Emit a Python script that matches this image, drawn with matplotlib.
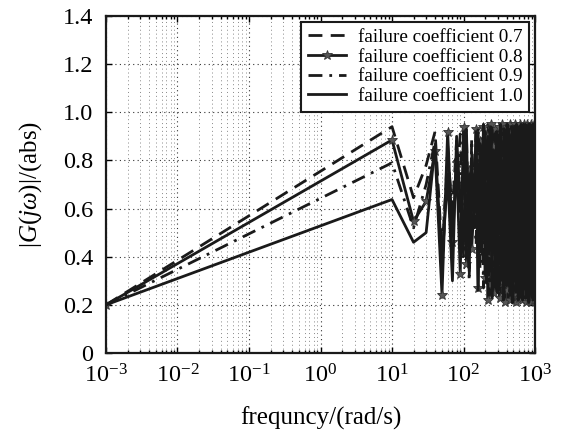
import matplotlib
matplotlib.use("Agg")
import matplotlib.pyplot as plt
from matplotlib.ticker import LogLocator, NullFormatter, FixedLocator

plt.rcParams['font.family'] = ['Liberation Serif', 'DejaVu Serif']
plt.rcParams['mathtext.fontset'] = 'custom'
plt.rcParams['mathtext.rm'] = 'Liberation Serif'
plt.rcParams['mathtext.it'] = 'Liberation Serif:italic'

freq = [0.001] + list(range(10, 1001, 10))

coef_07 = [0.2,
    0.94, 0.645, 0.78, 0.92, 0.42, 0.80, 0.60, 0.88, 0.50, 0.73,
    0.90, 0.45, 0.84, 0.58, 0.93, 0.40, 0.77, 0.91, 0.36, 0.86,
    0.52, 0.95, 0.30, 0.81, 0.66, 0.92, 0.27, 0.89, 0.44, 0.94,
    0.35, 0.83, 0.61, 0.95, 0.24, 0.78, 0.90, 0.38, 0.93, 0.55,
    0.87, 0.22, 0.94, 0.49, 0.80, 0.31, 0.95, 0.64, 0.26, 0.91,
    0.43, 0.89, 0.21, 0.76, 0.94, 0.34, 0.85, 0.57, 0.95, 0.23,
    0.92, 0.47, 0.70, 0.93, 0.28, 0.88, 0.39, 0.95, 0.60, 0.25,
    0.90, 0.51, 0.94, 0.22, 0.82, 0.37, 0.93, 0.68, 0.29, 0.95,
    0.41, 0.86, 0.24, 0.91, 0.56, 0.94, 0.21, 0.79, 0.46, 0.93,
    0.33, 0.95, 0.62, 0.26, 0.89, 0.44, 0.94, 0.23, 0.84, 0.90]

coef_08 = [0.2,
    0.885, 0.547, 0.63, 0.84, 0.24, 0.92, 0.46, 0.79, 0.33, 0.94,
    0.37, 0.76, 0.43, 0.62, 0.93, 0.27, 0.88, 0.52, 0.94, 0.31,
    0.90, 0.22, 0.71, 0.95, 0.40, 0.86, 0.25, 0.93, 0.58, 0.35,
    0.94, 0.23, 0.82, 0.48, 0.95, 0.29, 0.90, 0.21, 0.74, 0.94,
    0.26, 0.88, 0.45, 0.95, 0.22, 0.67, 0.92, 0.30, 0.94, 0.24,
    0.85, 0.53, 0.95, 0.21, 0.91, 0.36, 0.78, 0.94, 0.23, 0.89,
    0.42, 0.95, 0.27, 0.70, 0.93, 0.22, 0.87, 0.50, 0.95, 0.25,
    0.92, 0.33, 0.81, 0.94, 0.21, 0.63, 0.95, 0.28, 0.90, 0.39,
    0.94, 0.22, 0.76, 0.93, 0.26, 0.88, 0.46, 0.95, 0.21, 0.84,
    0.31, 0.94, 0.57, 0.24, 0.92, 0.35, 0.95, 0.22, 0.80, 0.93]

coef_09 = [0.2,
    0.79, 0.52, 0.70, 0.88, 0.33, 0.86, 0.55, 0.70, 0.91, 0.40,
    0.82, 0.30, 0.89, 0.62, 0.45, 0.94, 0.35, 0.80, 0.27, 0.92,
    0.59, 0.88, 0.24, 0.75, 0.95, 0.42, 0.84, 0.30, 0.93, 0.50,
    0.87, 0.26, 0.94, 0.66, 0.37, 0.91, 0.23, 0.85, 0.54, 0.95,
    0.32, 0.79, 0.93, 0.25, 0.88, 0.47, 0.94, 0.21, 0.73, 0.90,
    0.38, 0.95, 0.60, 0.27, 0.86, 0.44, 0.92, 0.22, 0.81, 0.95,
    0.34, 0.89, 0.52, 0.94, 0.24, 0.77, 0.91, 0.40, 0.95, 0.28,
    0.85, 0.63, 0.93, 0.21, 0.88, 0.48, 0.94, 0.32, 0.72, 0.92,
    0.25, 0.95, 0.55, 0.36, 0.90, 0.23, 0.86, 0.65, 0.94, 0.29,
    0.91, 0.43, 0.95, 0.22, 0.78, 0.93, 0.37, 0.88, 0.26, 0.92]

coef_10 = [0.2,
    0.6375, 0.46, 0.50, 0.86, 0.38, 0.74, 0.30, 0.90, 0.63, 0.45,
    0.93, 0.34, 0.81, 0.52, 0.92, 0.26, 0.87, 0.41, 0.95, 0.58,
    0.29, 0.90, 0.47, 0.94, 0.23, 0.83, 0.65, 0.36, 0.92, 0.25,
    0.88, 0.54, 0.95, 0.32, 0.77, 0.22, 0.93, 0.45, 0.86, 0.28,
    0.95, 0.61, 0.35, 0.90, 0.24, 0.84, 0.50, 0.94, 0.21, 0.79,
    0.92, 0.30, 0.88, 0.42, 0.95, 0.26, 0.73, 0.91, 0.37, 0.94,
    0.23, 0.83, 0.56, 0.95, 0.31, 0.89, 0.22, 0.68, 0.93, 0.40,
    0.86, 0.27, 0.95, 0.49, 0.91, 0.24, 0.80, 0.94, 0.35, 0.88,
    0.59, 0.21, 0.93, 0.44, 0.95, 0.30, 0.85, 0.25, 0.92, 0.53,
    0.89, 0.23, 0.94, 0.39, 0.82, 0.27, 0.95, 0.48, 0.91, 0.86]

fig = plt.figure(figsize=(5.62, 4.32), dpi=100)
ax = fig.add_axes([0.1886, 0.1829, 0.7634, 0.7801])

lw = 2.0
ax.plot(freq, coef_07, color='#1a1a1a', lw=lw, ls=(0, (5, 3)),
        label='failure coefficient 0.7')
ax.plot(freq, coef_08, color='#1a1a1a', lw=lw, ls='-', marker='*',
        markersize=7, markerfacecolor='#555555', markeredgecolor='#333333',
        markeredgewidth=0.6, label='failure coefficient 0.8')
ax.plot(freq, coef_09, color='#1a1a1a', lw=lw, ls=(0, (5, 2.5, 1, 2.5)),
        label='failure coefficient 0.9')
ax.plot(freq, coef_10, color='#1a1a1a', lw=lw, ls='-',
        label='failure coefficient 1.0')

ax.set_xscale('log')
ax.set_xlim(1e-3, 1e3)
ax.set_ylim(0, 1.4)
ax.xaxis.set_major_locator(LogLocator(base=10, numticks=10))
ax.xaxis.set_minor_locator(LogLocator(base=10, subs=range(2, 10), numticks=100))
ax.xaxis.set_minor_formatter(NullFormatter())
ax.yaxis.set_major_locator(FixedLocator([0, 0.2, 0.4, 0.6, 0.8, 1.0, 1.2, 1.4]))
ax.set_yticklabels(['0', '0.2', '0.4', '0.6', '0.8', '1.0', '1.2', '1.4'])

ax.grid(True, which='major', ls=(0, (1, 3)), color='#333333', lw=0.8)
ax.grid(True, which='minor', axis='x', ls=(0, (1, 3)), color='#888888', lw=0.7)

ax.tick_params(which='both', direction='in', top=True, right=True,
               labelsize=17.5, length=4, width=1)
ax.tick_params(axis='y', pad=9)
ax.tick_params(axis='x', pad=8)
ax.tick_params(which='minor', length=2)
for s in ax.spines.values():
    s.set_linewidth(1.6)
    s.set_color('#1a1a1a')

ax.set_xlabel('frequncy/(rad/s)', fontsize=18, labelpad=14)
ax.set_ylabel(r'$|G(j\omega)|/(\mathrm{abs})$', fontsize=18, labelpad=14)

leg = ax.legend(loc='upper right', fontsize=13.8, frameon=True, fancybox=False,
                edgecolor='#1a1a1a', framealpha=1, borderaxespad=0.3,
                handlelength=2.0, labelspacing=0.12, borderpad=0.35,
                handletextpad=0.6)
leg.get_frame().set_linewidth(1.5)

fig.savefig('out.png', dpi=100)
